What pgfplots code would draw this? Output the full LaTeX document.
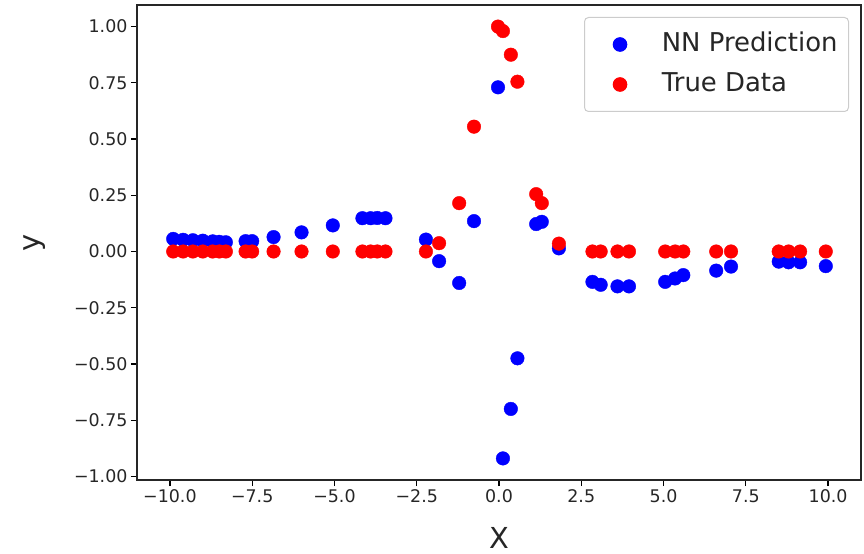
\documentclass[border=0pt]{standalone}
\usepackage{fontspec}
\setmainfont{DejaVu Sans}
\usepackage{pgfplots}
\pgfplotsset{compat=1.18}

\begin{document}
\begin{tikzpicture}
  \begin{axis}[
      name=ax,
      scale only axis,
      width=724bp, height=475bp,
      xmin=-11, xmax=11,
      ymin=-1.016, ymax=1.096,
      xtick={-10,-7.5,-5,-2.5,0,2.5,5,7.5,10},
      xticklabels={−10.0,−7.5,−5.0,−2.5,0.0,2.5,5.0,7.5,10.0},
      ytick={-1,-0.75,-0.5,-0.25,0,0.25,0.5,0.75,1},
      yticklabels={−1.00,−0.75,−0.50,−0.25,0.00,0.25,0.50,0.75,1.00},
      xtick pos=bottom, ytick pos=left,
      tick align=outside,
      major tick length=6bp,
      tick style={black, line width=1.2bp},
      axis line style={black!85, line width=1.2bp},
      ticklabel style={font=\fontsize{17.5}{20}\selectfont, text=black!85},
      xlabel={X}, ylabel={y},
      every axis x label/.style={at={(axis description cs:0.5,-0.1221)}, anchor=center,
        font=\fontsize{29}{32}\selectfont, text=black!85},
      every axis y label/.style={at={(axis description cs:-0.1409,0.5)}, anchor=center, rotate=90,
        font=\fontsize{29}{32}\selectfont, text=black!85},
      legend image code/.code={\path (-27bp,0bp); \draw[#1] plot coordinates {(0bp,0bp)};},
      legend style={at={(1,1)}, anchor=north east, xshift=-12bp, yshift=-12bp,
        draw=black!20, rounded corners=4bp, line width=1bp,
        font=\fontsize{26}{30}\selectfont, text=black!85,
        inner xsep=8bp, inner ysep=12bp, row sep=10bp,
        nodes={inner sep=3bp, text height=19bp, text depth=5bp},
        /tikz/every odd column/.append style={column sep=32bp}},
      legend cell align=left,
    ]
    % NN prediction
    \addplot[only marks, mark=*, mark size=6.8bp, color=blue] coordinates {
      (-9.9,0.056)(-9.6,0.052)(-9.3,0.050)(-9.0,0.048)(-8.7,0.045)(-8.5,0.043)(-8.3,0.041)
      (-7.7,0.046)(-7.5,0.046)(-6.85,0.064)(-6.0,0.085)(-5.05,0.116)
      (-4.15,0.148)(-3.9,0.148)(-3.7,0.149)(-3.45,0.148)
      (-2.22,0.053)(-1.82,-0.043)(-1.21,-0.14)(-0.76,0.135)
      (-0.03,0.73)(0.12,-0.92)(0.36,-0.70)(0.56,-0.475)
      (1.13,0.122)(1.30,0.132)(1.82,0.014)
      (2.84,-0.135)(3.09,-0.148)(3.6,-0.155)(3.95,-0.155)
      (5.05,-0.135)(5.35,-0.12)(5.6,-0.105)
      (6.6,-0.085)(7.05,-0.067)
      (8.5,-0.045)(8.8,-0.048)(9.15,-0.048)(9.93,-0.065)
    };
    \addlegendentry{NN Prediction}
    % true data
    \addplot[only marks, mark=*, mark size=6.8bp, color=red] coordinates {
      (-9.9,0)(-9.6,0)(-9.3,0)(-9.0,0)(-8.7,0)(-8.5,0)(-8.3,0)
      (-7.7,0)(-7.5,0)(-6.85,0)(-6.0,0)(-5.05,0)
      (-4.15,0)(-3.9,0)(-3.7,0)(-3.45,0)
      (-2.22,0)(-1.82,0.037)(-1.21,0.215)(-0.76,0.555)
      (-0.03,1.0)(0.12,0.98)(0.36,0.875)(0.56,0.755)
      (1.13,0.255)(1.30,0.215)(1.82,0.035)
      (2.84,0)(3.09,0)(3.6,0)(3.95,0)
      (5.05,0)(5.35,0)(5.6,0)
      (6.6,0)(7.05,0)
      (8.5,0)(8.8,0)(9.15,0)(9.93,0)
    };
    \addlegendentry{True Data}
  \end{axis}
  \path ([xshift=-137bp,yshift=-74bp]ax.south west) rectangle ([xshift=3bp,yshift=5bp]ax.north east);
\end{tikzpicture}
\end{document}
